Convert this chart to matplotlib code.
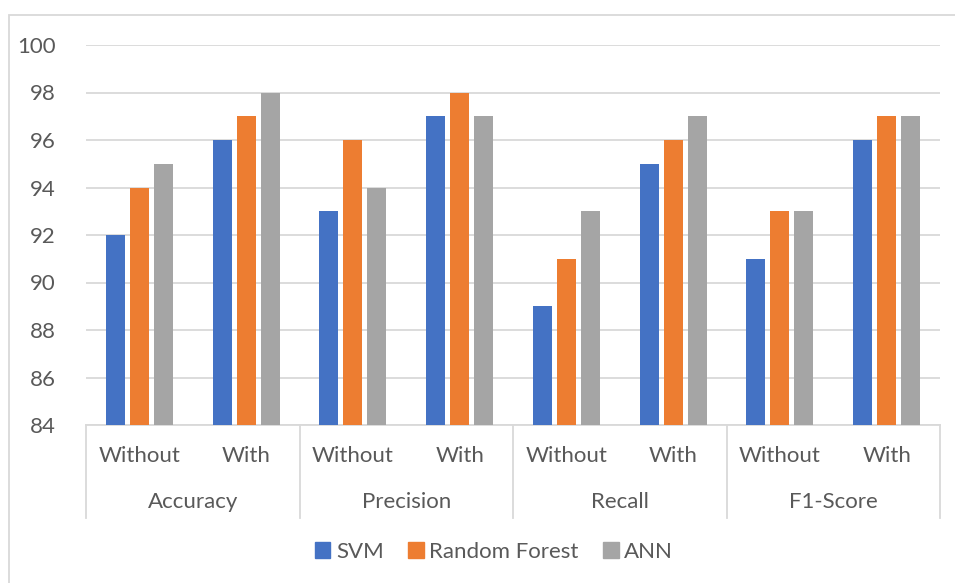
import matplotlib
matplotlib.use('Agg')
from matplotlib import pyplot as plt
from matplotlib.patches import Patch, Rectangle
from matplotlib.transforms import blended_transform_factory
import numpy as np

groups = ['Accuracy', 'Precision', 'Recall', 'F1-Score']
subcats = ['Without', 'With']
series = ['SVM', 'Random Forest', 'ANN']
svm = [92, 96, 93, 97, 89, 95, 91, 96]
rf = [94, 97, 96, 98, 91, 96, 93, 97]
ann = [95, 98, 94, 97, 93, 97, 93, 97]
colors = ['#4472C4', '#ED7D31', '#A5A5A5']

plt.rcParams['font.family'] = ['Lato', 'DejaVu Sans']
txt = '#595959'
grid = '#D9D9D9'
fs = 16

W, H = 955, 583
fig = plt.figure(figsize=(W / 100, H / 100), dpi=100)
ax = fig.add_axes([86 / W, 1 - 425 / H, (940 - 86) / W, (425 - 45) / H])

# outer chart border
fig.patches.append(Rectangle((9 / W, -0.05), 1.1, 1 - 15 / H + 0.05, transform=fig.transFigure,
                             fill=False, edgecolor=grid, lw=1.3))

x = np.arange(len(svm))
offs = [-0.224, 0, 0.224]
for vals, off, c, name in zip([svm, rf, ann], offs, colors, series):
    ax.bar(x + off, np.array(vals) - 84, bottom=84, width=0.178, color=c, label=name, zorder=3)

ax.set_xlim(-0.5, 7.5)
ax.set_ylim(84, 100)
ax.set_yticks(range(84, 101, 2))
ax.yaxis.grid(True, color=grid, lw=1.3, zorder=0)
ax.set_xticks([])
ax.tick_params(axis='y', length=0, pad=22, labelsize=fs, labelcolor=txt)
for s in ['left', 'right', 'top']:
    ax.spines[s].set_visible(False)
ax.spines['bottom'].set_color(grid)
ax.spines['bottom'].set_linewidth(1.3)

tr = blended_transform_factory(ax.transData, ax.transAxes)
for i in range(len(x)):
    ax.text(i, -31 / 380, subcats[i % 2], transform=tr, ha='center', va='center',
            fontsize=fs, color=txt)
for g, name in enumerate(groups):
    ax.text(2 * g + 0.5, -77 / 380, name, transform=tr, ha='center', va='center',
            fontsize=fs, color=txt)
for b in [-0.5, 1.5, 3.5, 5.5, 7.5]:
    ax.plot([b, b], [0, -93 / 380], transform=tr, color=grid, lw=1.3, clip_on=False)

handles = [Patch(color=c) for c in colors]
fig.legend(handles, series, loc='center', bbox_to_anchor=(494 / W, 1 - 552 / H), ncol=3,
           frameon=False, fontsize=fs, handlelength=0.7, handleheight=0.7,
           handletextpad=0.25, columnspacing=1.1, labelcolor=txt)

fig.savefig('out.png', dpi=100)
